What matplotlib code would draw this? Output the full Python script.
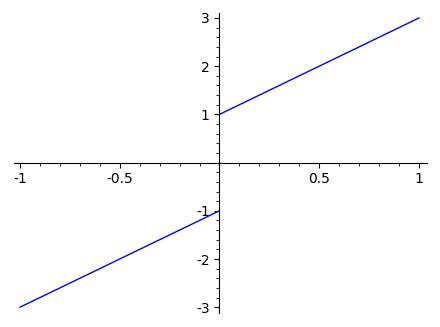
import matplotlib
matplotlib.use('Agg')
import matplotlib.pyplot as plt
from matplotlib.ticker import MultipleLocator, FuncFormatter

plt.rcParams['axes.unicode_minus'] = False

# two pieces of the function
x_left = [-1, 0]
y_left = [-3, -1]
x_right = [0, 1]
y_right = [1, 3]

fig = plt.figure(figsize=(4.4, 3.27), dpi=100)
ax = fig.add_axes([0.0318, 0.0428, 0.9386, 0.917])

ax.plot(x_left, y_left, color='blue', lw=1)
ax.plot(x_right, y_right, color='blue', lw=1)

ax.set_xlim(-1.03, 1.04)
ax.set_ylim(-3.12, 3.1)

# axes through origin
ax.spines['left'].set_position(('data', 0))
ax.spines['bottom'].set_position(('data', 0))
ax.spines['right'].set_visible(False)
ax.spines['top'].set_visible(False)

ax.xaxis.set_major_locator(MultipleLocator(0.5))
ax.xaxis.set_minor_locator(MultipleLocator(0.1))
ax.yaxis.set_major_locator(MultipleLocator(1))
ax.yaxis.set_minor_locator(MultipleLocator(0.2))

fmt = FuncFormatter(lambda v, p: '' if abs(v) < 1e-9 else ('%g' % v))
ax.xaxis.set_major_formatter(fmt)
ax.yaxis.set_major_formatter(fmt)

fig.savefig('out.png', dpi=100)
